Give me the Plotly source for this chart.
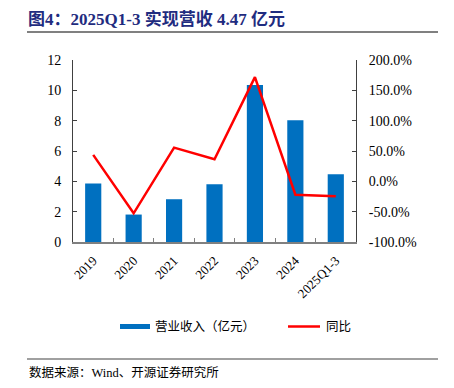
import plotly.graph_objects as go

categories = ["2019", "2020", "2021", "2022", "2023", "2024", "2025Q1-3"]
revenue = [3.86, 1.81, 2.82, 3.81, 10.35, 8.02, 4.47]
yoy = [43.6, -52.7, 55.6, 36.5, 171.8, -22.0, -24.6]
left_ticks = [0, 2, 4, 6, 8, 10, 12]
right_ticks = [-100, -50, 0, 50, 100, 150, 200]

# page body has an 8px default margin
OFF = 8
W, H = 454 - OFF, 388 - OFF
L, R, T, B = 73, 356, 60, 242  # plot area in window pixels

def px(x):
    return (x - L) / (R - L)

def py(y):
    return (B - y) / (B - T)

serif = "Liberation Serif, Times New Roman, Noto Sans CJK SC"
cjk = "Liberation Serif, Noto Sans CJK SC"

fig = go.Figure()
fig.add_trace(go.Bar(x=categories, y=revenue, name="营业收入（亿元）",
                     marker=dict(color="#0070C0", line=dict(width=0)),
                     width=0.4, yaxis="y", showlegend=False))
fig.add_trace(go.Scatter(x=categories, y=yoy, name="同比", mode="lines",
                         line=dict(color="#FF0000", width=2.5),
                         yaxis="y2", showlegend=False))

fig.update_layout(
    width=W, height=H,
    margin=dict(l=L - OFF, r=W + OFF - R, t=T - OFF, b=H + OFF - B, autoexpand=False),
    paper_bgcolor="white", plot_bgcolor="white",
    xaxis=dict(type="category", tickangle=-45, tickson="boundaries",
               ticks="inside", ticklen=4, tickcolor="#808080",
               showline=True, linecolor="#808080", linewidth=2,
               showgrid=False, automargin=False, ticklabelstandoff=4,
               tickfont=dict(family=serif, size=13, color="#000000")),
    yaxis=dict(range=[0, 12], tickvals=left_ticks, ticks="inside", ticklen=4,
               tickcolor="#404040", showline=True, linecolor="#404040", linewidth=1,
               showgrid=False, zeroline=False, automargin=False, ticklabelstandoff=8,
               tickfont=dict(family=serif, size=14, color="#000000")),
    yaxis2=dict(range=[-100, 200], tickvals=right_ticks,
                ticktext=[f"{v:.1f}%" for v in right_ticks],
                overlaying="y", side="right", ticks="inside", ticklen=4,
                tickcolor="#404040", showline=True, linecolor="#404040", linewidth=1,
                showgrid=False, zeroline=False, automargin=False, ticklabelstandoff=9,
                tickfont=dict(family=serif, size=14, color="#000000")),
)

shapes = [
    dict(type="line", xref="paper", yref="paper", x0=px(27), x1=px(438), y0=py(32), y1=py(32),
         line=dict(color="#808080", width=2)),
    dict(type="line", xref="paper", yref="paper", x0=px(27), x1=px(438), y0=py(359), y1=py(359),
         line=dict(color="#808080", width=1.5)),
    dict(type="rect", xref="paper", yref="paper", x0=px(120), x1=px(150), y0=py(324), y1=py(329),
         fillcolor="#0070C0", line=dict(width=0)),
    dict(type="line", xref="paper", yref="paper", x0=px(288), x1=px(320), y0=py(326.5), y1=py(326.5),
         line=dict(color="#FF0000", width=2.5)),
]

annotations = [
    dict(text="<b>图4：2025Q1-3 实现营收 4.47 亿元</b>", xref="paper", yref="paper",
         x=px(26), y=py(19.5), xanchor="left", yanchor="middle", showarrow=False,
         font=dict(family=cjk, size=17, color="#1F2C80")),
    dict(text="营业收入（亿元）", xref="paper", yref="paper",
         x=px(153), y=py(326.5), xanchor="left", yanchor="middle", showarrow=False,
         font=dict(family=cjk, size=12.5, color="#000000")),
    dict(text="同比", xref="paper", yref="paper",
         x=px(324), y=py(326.5), xanchor="left", yanchor="middle", showarrow=False,
         font=dict(family=cjk, size=12.5, color="#000000")),
    dict(text="数据来源：Wind、开源证券研究所", xref="paper", yref="paper",
         x=px(27), y=py(372), xanchor="left", yanchor="middle", showarrow=False,
         font=dict(family=cjk, size=12.5, color="#000000")),
]

fig.update_layout(shapes=shapes, annotations=annotations)
fig.write_html("out.html")
